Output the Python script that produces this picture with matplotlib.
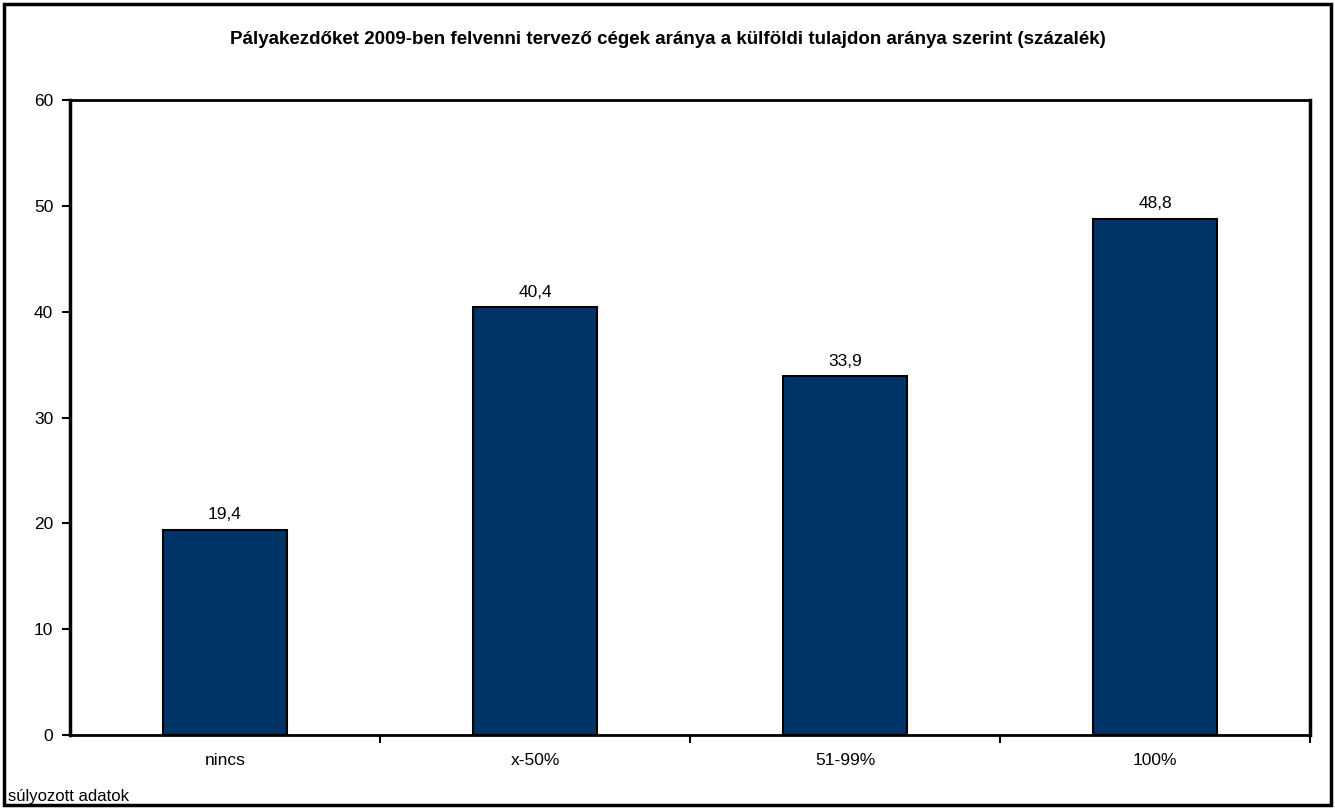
import matplotlib.pyplot as plt
from matplotlib.patches import Rectangle

plt.rcParams['font.family'] = ['Liberation Sans', 'DejaVu Sans']

categories = ['nincs', 'x-50%', '51-99%', '100%']
values = [19.4, 40.4, 33.9, 48.8]
title = 'Pályakezdőket 2009-ben felvenni tervező cégek aránya a külföldi tulajdon aránya szerint (százalék)'
note = 'súlyozott adatok'

fig = plt.figure(figsize=(13.35, 8.09), dpi=100)
ax = fig.add_axes([70 / 1335, 1 - 735 / 809, 1240 / 1335, 635 / 809])

x = range(len(categories))
bars = ax.bar(x, values, width=0.4, color='#003366', edgecolor='black', linewidth=1.5)
for xi, v in zip(x, values):
    ax.text(xi, v + 0.7, f'{v:.1f}'.replace('.', ','), ha='center', va='bottom', fontsize=12.5)

ax.set_xlim(-0.5, len(categories) - 0.5)
ax.set_ylim(0, 60)
ax.set_yticks(range(0, 61, 10))
ax.tick_params(axis='y', direction='out', length=6, width=1.5, labelsize=12.5, pad=6)

ax.set_xticks(list(x))
ax.set_xticklabels(categories, fontsize=12.5)
ax.tick_params(axis='x', which='major', length=0, pad=13)
ax.set_xticks([i + 0.5 for i in range(len(categories))], minor=True)
ax.tick_params(axis='x', which='minor', direction='out', length=6, width=1.5)

ax.spines['left'].set_linewidth(2.5)
ax.spines['right'].set_linewidth(2.5)
ax.spines['top'].set_linewidth(2)
ax.spines['bottom'].set_linewidth(2)

fig.text(0.5, 1 - 40 / 809, title, ha='center', va='center', fontsize=13.5, fontweight='bold')
fig.text(8 / 1335, 1 - 796 / 809, note, ha='left', va='center', fontsize=12)

fig.patches.append(Rectangle((4 / 1335, 4 / 809), 1327 / 1335, 801 / 809, transform=fig.transFigure,
                             fill=False, edgecolor='black', linewidth=2.5))

fig.savefig('out.png', dpi=100)
